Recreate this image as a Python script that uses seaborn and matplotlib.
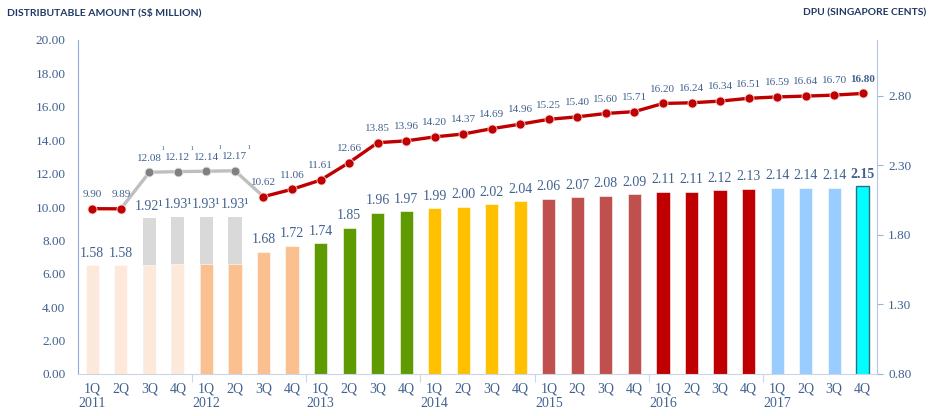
import matplotlib
matplotlib.use("Agg")
import matplotlib.pyplot as plt
import seaborn as sns
import pandas as pd
import numpy as np

# quarters and years
quarters = ["1Q", "2Q", "3Q", "4Q"]
years = ["2011", "2012", "2013", "2014", "2015", "2016", "2017"]

# distributable amount (S$ million), left axis, line
dist_amount = [9.90, 9.89, 12.08, 12.12, 12.14, 12.17, 10.62, 11.06,
               11.61, 12.66, 13.85, 13.96, 14.20, 14.37, 14.69, 14.96,
               15.25, 15.40, 15.60, 15.71, 16.20, 16.24, 16.34, 16.51,
               16.59, 16.64, 16.70, 16.80]

# DPU (singapore cents), right axis, bars
dpu = [1.58, 1.58, 1.92, 1.93, 1.93, 1.93, 1.68, 1.72,
       1.74, 1.85, 1.96, 1.97, 1.99, 2.00, 2.02, 2.04,
       2.06, 2.07, 2.08, 2.09, 2.11, 2.11, 2.12, 2.13,
       2.14, 2.14, 2.14, 2.15]

# coloured part of the bars for the footnoted quarters (rest is grey)
dpu_base = [1.58, 1.58, 1.58, 1.59, 1.59, 1.59, 1.68, 1.72,
            1.74, 1.85, 1.96, 1.97, 1.99, 2.00, 2.02, 2.04,
            2.06, 2.07, 2.08, 2.09, 2.11, 2.11, 2.12, 2.13,
            2.14, 2.14, 2.14, 2.15]

footnoted = [2, 3, 4, 5]

year_colors = ["#FDE9D9", "#FAC090", "#5F9A00", "#FFC000", "#C0504D", "#C00000", "#99CCFF"]

txt_col = "#41618F"
title_col = "#1F3864"

keys = [f"{q} {y}" for y in years for q in quarters]
tick_labels = [q + ("\n" + y if q == "1Q" else "") for y in years for q in quarters]
bar_colors = [c for c in year_colors for _ in quarters]
bar_colors[-1] = "#00FFFF"

df = pd.DataFrame({"key": keys, "idx": np.arange(len(keys)), "da": dist_amount,
                   "dpu": dpu, "base": dpu_base})

fig = plt.figure(figsize=(9.32, 4.16), dpi=100)
ax = fig.add_axes([78 / 932, 42 / 416, 799 / 932, 334 / 416])
ax2 = ax.twinx()
ax.set_zorder(ax2.get_zorder() + 1)
ax.patch.set_visible(False)

serif = "Liberation Serif"

# bars (right axis)
grey = df[df["idx"].isin(footnoted)]
sns.barplot(data=grey, x="key", y="dpu", order=keys, color="#D9D9D9",
            saturation=1, width=0.46, ax=ax2)
sns.barplot(data=df, x="key", y="base", hue="key", order=keys, palette=bar_colors,
            saturation=1, width=0.46, legend=False, ax=ax2,
            edgecolor="white", linewidth=0.4)
last_bar = [p for p in ax2.patches if abs(p.get_x() + p.get_width() / 2 - 27) < 0.01]
for p in last_bar:
    p.set_edgecolor("#2E6E80")
    p.set_linewidth(1.0)

ax2.set_ylim(0.8, 3.2)
ax2.set_yticks([0.80, 1.30, 1.80, 2.30, 2.80])
ax2.set_yticklabels([f"{v:.2f}" for v in [0.80, 1.30, 1.80, 2.30, 2.80]],
                    fontfamily=serif, fontsize=9.5, color=txt_col)
ax2.tick_params(axis="y", length=4, color="#9DB3D6", pad=4)
ax2.set_ylabel("")
ax2.set_xlabel("")

for i, v in enumerate(dpu):
    s = f"{v:.2f}" + ("\u00b9" if i in footnoted else "")
    ax2.annotate(s, (i, v), xytext=(0, 4), textcoords="offset points",
                 ha="center", va="bottom", fontfamily=serif, fontsize=10,
                 color=txt_col, fontweight="bold" if i == len(dpu) - 1 else "normal")

# line (left axis)
g0, g1 = footnoted[0] - 1, footnoted[-1] + 1
sns.lineplot(data=df.iloc[g0:g1 + 1], x="idx", y="da", color="#BFBFBF",
             linewidth=2.4, ax=ax)
sns.scatterplot(data=df.iloc[footnoted], x="idx", y="da", color="#808080",
                s=40, edgecolor="#E0E0E0", linewidth=0.6, ax=ax, zorder=4)
for seg in [df.iloc[:g0 + 1], df.iloc[g1:]]:
    sns.lineplot(data=seg, x="idx", y="da", color="#C00000", linewidth=2.4,
                 marker="o", markersize=6.5, markeredgecolor="#F6D5D5",
                 markeredgewidth=0.6, ax=ax, zorder=5)

for i, v in enumerate(dist_amount):
    bold = i == len(dist_amount) - 1
    ax.annotate(f"{v:.2f}", (i, v), xytext=(0, 7), textcoords="offset points",
                ha="center", va="bottom", fontfamily=serif, fontsize=8,
                color=txt_col, fontweight="bold" if bold else "normal")
    if i in footnoted:
        ax.annotate("\u00b9", (i, v), xytext=(10, 13), textcoords="offset points",
                    ha="center", va="bottom", fontfamily=serif, fontsize=6,
                    color=txt_col)

ax.set_ylim(0, 20)
ax.set_yticks(np.arange(0, 20.01, 2))
ax.set_yticklabels([f"{v:.2f}" for v in np.arange(0, 20.01, 2)],
                   fontfamily=serif, fontsize=9.5, color=txt_col)
ax.tick_params(axis="y", length=0, pad=9)
ax.set_xlim(-0.5, len(keys) - 0.5)
ax.set_xticks(range(len(keys)))
ax.set_xticklabels(tick_labels, fontfamily=serif, fontsize=10, color=txt_col,
                   linespacing=1.2, va="top")
ax.tick_params(axis="x", length=0, pad=6)
ax.set_xticks(np.arange(3.5, len(keys) - 1, 4), minor=True)
ax.tick_params(axis="x", which="minor", length=6, color="#C9D5EA", width=0.8)
ax.set_xlabel("")
ax.set_ylabel("")
ax2.set_xlim(-0.5, len(keys) - 0.5)

for a in (ax, ax2):
    a.spines["top"].set_visible(False)
ax.spines["left"].set_color("#8EA9DB")
ax.spines["right"].set_visible(False)
ax.spines["bottom"].set_color("#C9D5EA")
ax2.spines["left"].set_visible(False)
ax2.spines["bottom"].set_visible(False)
ax2.spines["right"].set_color("#B4C7E7")

fig.text(7 / 932, 1 - 13 / 416, "DISTRIBUTABLE AMOUNT (S$ MILLION)", fontfamily="Lato",
         fontweight="bold", fontsize=7.5, color=title_col, va="center", ha="left")
fig.text(926 / 932, 1 - 13 / 416, "DPU (SINGAPORE CENTS)", fontfamily="Lato",
         fontweight="bold", fontsize=7.4, color=title_col, va="center", ha="right")

fig.savefig("out.png", dpi=100)
